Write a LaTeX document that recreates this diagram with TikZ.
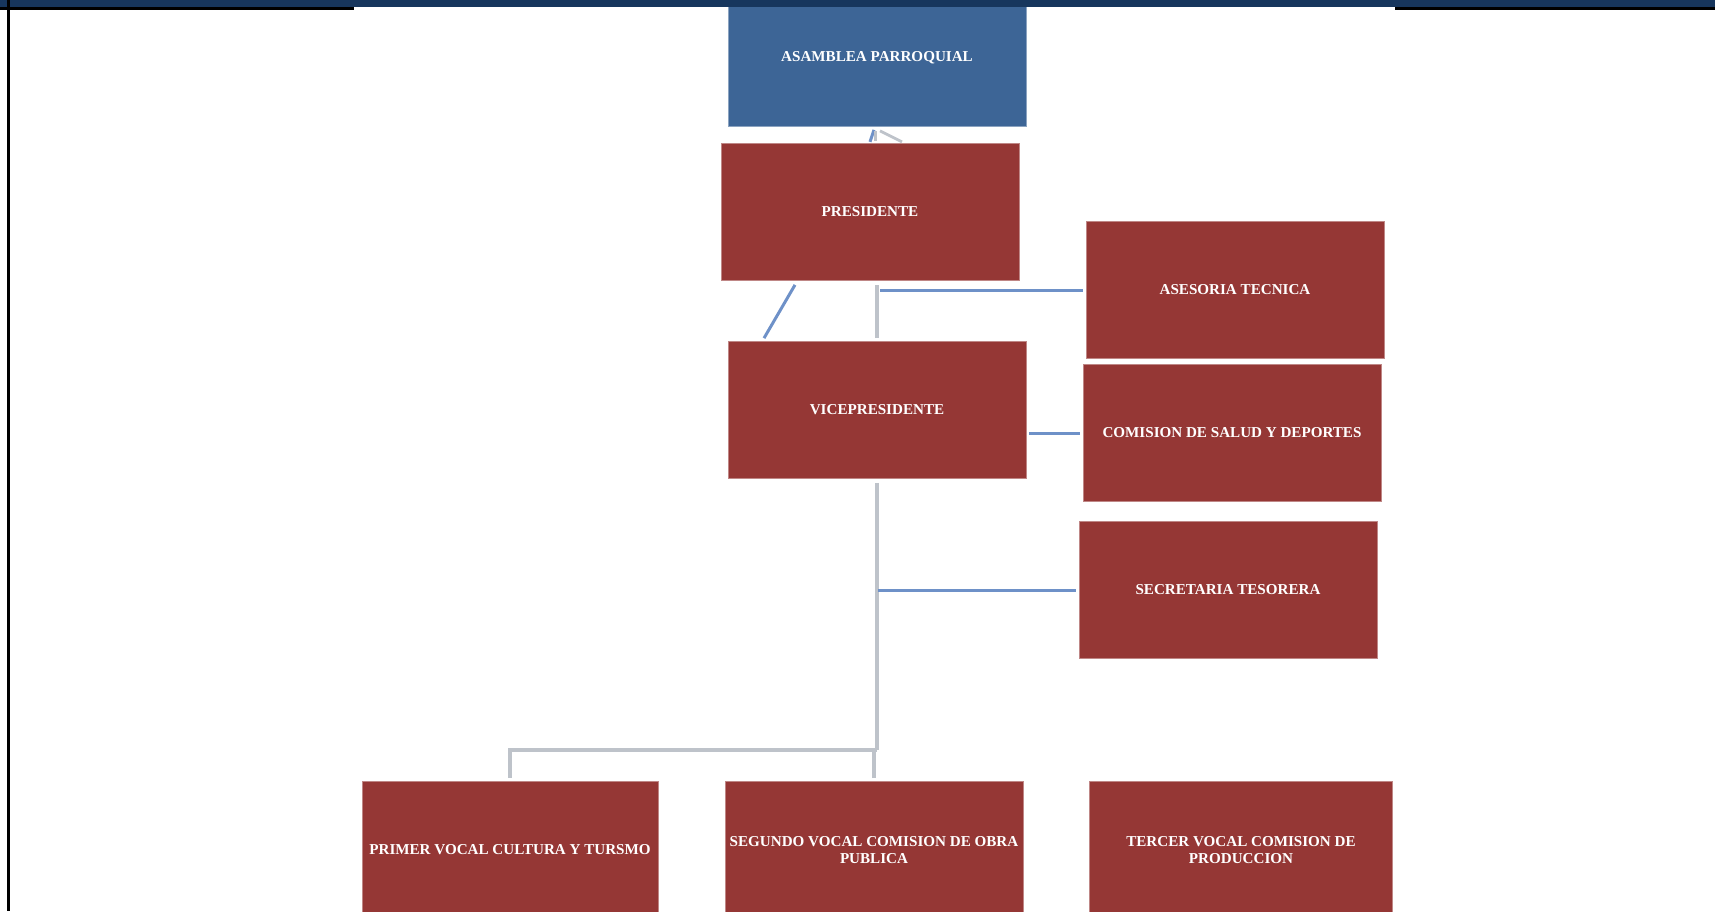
\documentclass[tikz,border=0pt]{standalone}
\usepackage{fontspec}
\setmainfont{Liberation Serif}
\usepackage{tikz}
\usetikzlibrary{positioning}
\definecolor{boxred}{RGB}{149,55,53}
\definecolor{boxblue}{RGB}{61,101,150}
\definecolor{barnavy}{RGB}{23,54,93}
\definecolor{linkblue}{RGB}{110,145,200}
\definecolor{linkgrey}{RGB}{190,195,202}
\begin{document}
\begin{tikzpicture}[onode/.style={fill=boxred,draw=boxred!60!white,line width=0.2pt,text=white,inner sep=0pt,minimum width=2.98cm,minimum height=1.37cm,align=center,font=\fontsize{4.3}{4.7}\selectfont\bfseries},
  bline/.style={draw=linkblue,line width=0.85pt},gline/.style={draw=linkgrey,line width=1.1pt}]
  \useasboundingbox (0,0) rectangle (17.15,-9.11);
  \node[onode,fill=boxblue,draw=boxblue!60!white] (AP) at (8.77,-0.58) {ASAMBLEA PARROQUIAL};
  \node[onode] (PR) at (8.70,-2.12) {PRESIDENTE};
  \node[onode] (VP) at (8.77,-4.10) {VICEPRESIDENTE};
  \node[onode] (AT) at (12.35,-2.90) {ASESORIA TECNICA};
  \node[onode] (CS) at (12.32,-4.33) {COMISION DE SALUD Y DEPORTES};
  \node[onode] (ST) at (12.28,-5.90) {SECRETARIA TESORERA};
  \node[onode,minimum width=2.96cm] (V1) at (5.10,-8.50) {PRIMER VOCAL CULTURA Y TURSMO};
  \node[onode] (V2) at (8.74,-8.50) {SEGUNDO VOCAL COMISION DE OBRA\\PUBLICA};
  \node[onode,minimum width=3.03cm] (V3) at (12.41,-8.50) {TERCER VOCAL COMISION DE\\PRODUCCION};
  \coordinate (J) at (8.77,-7.50);
  % page frame
  \fill[barnavy] (0,0) rectangle (17.15,-0.07);
  \fill[black] (0,-0.07) rectangle (3.54,-0.10);
  \fill[black] (13.95,-0.07) rectangle (17.15,-0.10);
  \fill[black] (0.07,0) rectangle (0.095,-9.11);
  \begin{scope}[-]
    \draw[bline] ([xshift=-0.07cm,yshift=-0.15cm]AP.south) -- ([xshift=-0.03cm,yshift=-0.03cm]AP.south);
    \draw[gline,line width=0.6pt] ([xshift=-0.015cm,yshift=-0.04cm]AP.south) -- ([xshift=-0.015cm,yshift=-0.14cm]AP.south);
    \draw[gline,line width=0.8pt] ([xshift=0.03cm,yshift=-0.04cm]AP.south) -- ([xshift=0.25cm,yshift=-0.15cm]AP.south);
    \draw[bline] ([xshift=-0.75cm,yshift=-0.04cm]PR.south) -- ([xshift=-1.13cm,yshift=0.03cm]VP.north);
    \draw[gline,shorten <=0.3mm,shorten >=0.4mm] (VP.north) -- (VP.north |- PR.south);
    \draw[bline,shorten <=0.3mm,shorten >=0.3mm] (AT.west) -- (AT.west -| VP.north);
    \draw[bline,shorten <=0.3mm,shorten >=0.3mm] (CS.west) -- (CS.west -| VP.east);
    \draw[gline,shorten <=0.4mm] (VP.south) -- (J);
    \draw[bline,shorten <=0.3mm,shorten >=0.1mm] (ST.west) -- (ST.west -| J);
    \draw[gline,shorten >=0.3mm] (J) -| (V1.north);
    \draw[gline,shorten <=0.3mm] (V2.north) -- (V2.north |- J);
  \end{scope}
\end{tikzpicture}
\end{document}
